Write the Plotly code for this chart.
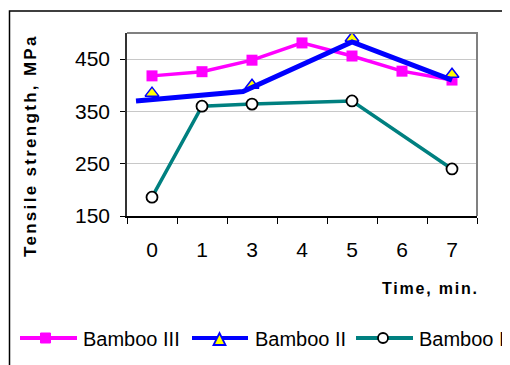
import plotly.graph_objects as go

categories = ["0", "1", "3", "4", "5", "6", "7"]

bamboo3_x = ["0", "1", "3", "4", "5", "6", "7"]
bamboo3_y = [418, 426, 448, 481, 456, 427, 410]

bamboo2_marker_x = ["0", "3", "5", "7"]
bamboo2_marker_y = [385, 400, 490, 421]
# the drawn Bamboo II line (offset from its markers in the original)
bamboo2_line_pos = [-0.32, 1.82, 4.0, 6.0]
bamboo2_line_y = [370, 388, 483, 410]

bamboo1_x = ["0", "1", "3", "5", "7"]
bamboo1_y = [186, 360, 364, 370, 240]

series_names = ["Bamboo III", "Bamboo II", "Bamboo I"]
y_ticks = [150, 250, 350, 450]

FONT = "Arial, Liberation Sans, sans-serif"
C3, C2, C1 = "#FF00FF", "#0000FF", "#008080"

# page has an 8px body margin; layout below is expressed in screen pixels
OFF = 8
W, H = 510 - OFF, 365 - OFF
PL, PR, PT, PB = 127, 477, 33, 216  # plot area on screen
PW, PH = PR - PL, PB - PT


def px(x):
    return (x - PL) / PW


def py(y):
    return (PB - y) / PH


fig = go.Figure()

fig.add_trace(go.Scatter(
    x=bamboo3_x, y=bamboo3_y, name=series_names[0], mode="lines+markers",
    line=dict(color=C3, width=3.5),
    marker=dict(symbol="square", size=11, color=C3),
    showlegend=False,
))
fig.add_trace(go.Scatter(
    x=bamboo2_line_pos, y=bamboo2_line_y, xaxis="x2", mode="lines",
    line=dict(color=C2, width=5), showlegend=False, hoverinfo="skip",
))
fig.add_trace(go.Scatter(
    x=bamboo2_marker_x, y=bamboo2_marker_y, name=series_names[1],
    mode="markers",
    marker=dict(symbol="triangle-up", size=12, color="#FFFF00",
                line=dict(color=C2, width=1.5)),
    showlegend=False,
))
fig.add_trace(go.Scatter(
    x=bamboo1_x, y=bamboo1_y, name=series_names[2], mode="lines+markers",
    line=dict(color=C1, width=3.5),
    marker=dict(symbol="circle", size=11, color="white",
                line=dict(color="black", width=1.8)),
    showlegend=False,
))

# ---- manual legend (Excel-style long line samples) ----
leg_y = 338
leg_items = [
    # (line x0, x1, glyph center x, text x, color)
    (20, 77, 45.5, 81, C3),
    (192, 248, 219.5, 253, C2),
    (356, 413, 383, 417, C1),
]
shapes = []
annotations = []
for (x0, x1, gx, tx, col), name in zip(leg_items, series_names):
    shapes.append(dict(type="line", xref="paper", yref="paper",
                       x0=px(x0), x1=px(x1), y0=py(leg_y), y1=py(leg_y),
                       line=dict(color=col, width=4)))
    annotations.append(dict(text=name, xref="paper", yref="paper",
                            x=px(tx), y=py(leg_y + 1), xanchor="left",
                            yanchor="middle", showarrow=False,
                            font=dict(size=20)))
# square glyph
shapes.append(dict(type="rect", xref="paper", yref="paper",
                   x0=px(40.5), x1=px(50.5), y0=py(333), y1=py(343),
                   fillcolor=C3, line=dict(color=C3, width=1)))
# triangle glyph
shapes.append(dict(type="path", xref="paper", yref="paper",
                   path=f"M {px(213.5)} {py(345)} L {px(225.5)} {py(345)} "
                        f"L {px(219.5)} {py(333)} Z",
                   fillcolor="#FFFF00", line=dict(color=C2, width=1.8)))
# circle glyph
shapes.append(dict(type="circle", xref="paper", yref="paper",
                   x0=px(378), x1=px(388), y0=py(333), y1=py(343),
                   fillcolor="white", line=dict(color="black", width=1.8)))

# plot frame (top and right, gray) and outer chart border
shapes.append(dict(type="path", xref="paper", yref="paper",
                   path="M 0 1 L 1 1 L 1 0", line=dict(color="#808080", width=2),
                   layer="above"))
shapes.append(dict(type="rect", xref="paper", yref="paper",
                   x0=px(9.5), x1=px(530), y0=py(380), y1=py(11),
                   line=dict(color="black", width=1.5)))

annotations.append(dict(
    text="<b><span style='letter-spacing:2.3px'>Tensile strength, MPa</span></b>",
    xref="paper", yref="paper", x=px(30), y=py(146), textangle=-90,
    showarrow=False, font=dict(size=17), xanchor="center", yanchor="middle"))
annotations.append(dict(
    text="<b><span style='letter-spacing:1.8px'>Time, min.</span></b>",
    xref="paper", yref="paper", x=px(481), y=py(288), xanchor="right",
    yanchor="middle", showarrow=False, font=dict(size=16)))

fig.update_layout(
    template="none",
    width=W, height=H,
    margin=dict(l=PL - OFF, r=W - (PR - OFF), t=PT - OFF, b=H - (PB - OFF),
                autoexpand=False),
    paper_bgcolor="white", plot_bgcolor="white",
    font=dict(family=FONT, color="black", size=21),
    showlegend=False,
    xaxis=dict(
        type="category", categoryorder="array", categoryarray=categories,
        range=[-0.5, 6.5], tickson="boundaries", ticks="outside", ticklen=6,
        tickcolor="black", showline=True, linecolor="black", linewidth=1.5,
        showgrid=False, ticklabelstandoff=14, tickfont=dict(size=21),
        automargin=False,
    ),
    xaxis2=dict(overlaying="x", range=[-0.5, 6.5], visible=False,
                showgrid=False),
    yaxis=dict(
        range=[150, 500], tickvals=y_ticks, ticks="outside",
        ticklen=5, tickcolor="black", showline=True, linecolor="#333333",
        linewidth=1.5, showgrid=True, gridcolor="#C8C8C8", gridwidth=1,
        zeroline=False, tickfont=dict(size=21), ticklabelstandoff=6,
        automargin=False,
    ),
    shapes=shapes,
    annotations=annotations,
)

fig.write_html("out.html")
